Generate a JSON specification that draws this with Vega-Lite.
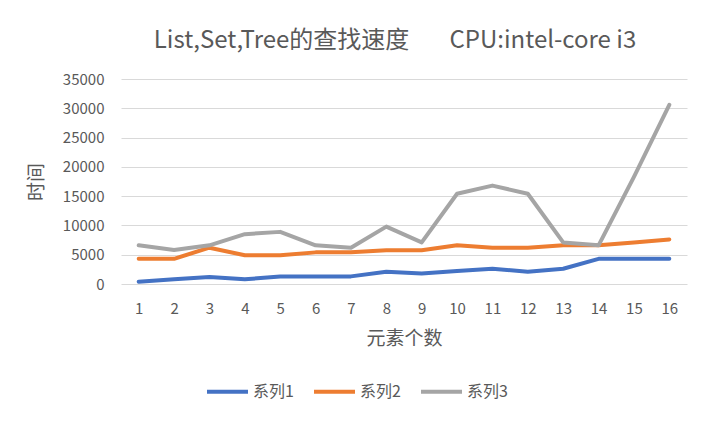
{
  "$schema": "https://vega.github.io/schema/vega-lite/v6.json",
  "autosize": "none",
  "width": 566,
  "height": 205,
  "padding": {"left": 121, "top": 79, "right": 22, "bottom": 141},
  "background": "white",
  "title": {
    "text": "List,Set,Tree的查找速度\u3000\u00a0\u00a0\u00a0CPU:intel-core i3",
    "anchor": "middle",
    "frame": "group",
    "dx": -9,
    "offset": 19,
    "font": "Noto Sans CJK SC",
    "fontSize": 24,
    "fontWeight": "normal",
    "color": "#595959"
  },
  "data": {
    "values": [
      {"x": 1, "s": "系列1", "v": 400}, {"x": 2, "s": "系列1", "v": 800}, {"x": 3, "s": "系列1", "v": 1200}, {"x": 4, "s": "系列1", "v": 800},
      {"x": 5, "s": "系列1", "v": 1300}, {"x": 6, "s": "系列1", "v": 1300}, {"x": 7, "s": "系列1", "v": 1300}, {"x": 8, "s": "系列1", "v": 2100},
      {"x": 9, "s": "系列1", "v": 1800}, {"x": 10, "s": "系列1", "v": 2200}, {"x": 11, "s": "系列1", "v": 2600}, {"x": 12, "s": "系列1", "v": 2100},
      {"x": 13, "s": "系列1", "v": 2600}, {"x": 14, "s": "系列1", "v": 4300}, {"x": 15, "s": "系列1", "v": 4300}, {"x": 16, "s": "系列1", "v": 4300},
      {"x": 1, "s": "系列2", "v": 4300}, {"x": 2, "s": "系列2", "v": 4300}, {"x": 3, "s": "系列2", "v": 6200}, {"x": 4, "s": "系列2", "v": 4900},
      {"x": 5, "s": "系列2", "v": 4900}, {"x": 6, "s": "系列2", "v": 5400}, {"x": 7, "s": "系列2", "v": 5400}, {"x": 8, "s": "系列2", "v": 5750},
      {"x": 9, "s": "系列2", "v": 5750}, {"x": 10, "s": "系列2", "v": 6600}, {"x": 11, "s": "系列2", "v": 6200}, {"x": 12, "s": "系列2", "v": 6200},
      {"x": 13, "s": "系列2", "v": 6600}, {"x": 14, "s": "系列2", "v": 6600}, {"x": 15, "s": "系列2", "v": 7100}, {"x": 16, "s": "系列2", "v": 7600},
      {"x": 1, "s": "系列3", "v": 6600}, {"x": 2, "s": "系列3", "v": 5800}, {"x": 3, "s": "系列3", "v": 6600}, {"x": 4, "s": "系列3", "v": 8500},
      {"x": 5, "s": "系列3", "v": 8900}, {"x": 6, "s": "系列3", "v": 6600}, {"x": 7, "s": "系列3", "v": 6200}, {"x": 8, "s": "系列3", "v": 9800},
      {"x": 9, "s": "系列3", "v": 7100}, {"x": 10, "s": "系列3", "v": 15400}, {"x": 11, "s": "系列3", "v": 16800}, {"x": 12, "s": "系列3", "v": 15400},
      {"x": 13, "s": "系列3", "v": 7100}, {"x": 14, "s": "系列3", "v": 6600}, {"x": 15, "s": "系列3", "v": 18300}, {"x": 16, "s": "系列3", "v": 30600}
    ]
  },
  "mark": {"type": "line", "strokeWidth": 4, "strokeCap": "round", "strokeJoin": "round"},
  "encoding": {
    "x": {
      "field": "x", "type": "ordinal",
      "scale": {"type": "point", "padding": 0.5},
      "axis": {
        "title": "元素个数", "labelAngle": 0, "domain": false, "ticks": false, "grid": false,
        "labelPadding": 17, "labelFontSize": 15, "labelFont": "Noto Sans CJK SC", "labelColor": "#595959",
        "titleFont": "Noto Sans CJK SC", "titleFontSize": 19, "titleFontWeight": "normal", "titleColor": "#595959",
        "titlePadding": 13
      }
    },
    "y": {
      "field": "v", "type": "quantitative",
      "scale": {"domain": [0, 35000], "nice": false},
      "axis": {
        "title": "时间", "values": [0, 5000, 10000, 15000, 20000, 25000, 30000, 35000],
        "format": "d", "domain": false, "ticks": false, "grid": true, "gridColor": "#d9d9d9", "gridWidth": 1,
        "labelPadding": 17, "labelFontSize": 15, "labelFont": "Noto Sans CJK SC", "labelColor": "#595959",
        "titleFont": "Noto Sans CJK SC", "titleFontSize": 19, "titleFontWeight": "normal", "titleColor": "#595959",
        "titlePadding": 16
      }
    },
    "color": {
      "field": "s", "type": "nominal",
      "scale": {"domain": ["系列1", "系列2", "系列3"], "range": ["#4472C4", "#ED7D31", "#A5A5A5"]},
      "legend": {
        "title": null, "orient": "none", "direction": "horizontal",
        "legendX": 84, "legendY": 290,
        "symbolType": "stroke", "symbolSize": 1681, "symbolStrokeWidth": 4,
        "labelFont": "Noto Sans CJK SC", "labelFontSize": 16, "labelColor": "#595959",
        "labelOffset": 3, "columnPadding": 12
      }
    }
  },
  "config": {"view": {"stroke": null}}
}
